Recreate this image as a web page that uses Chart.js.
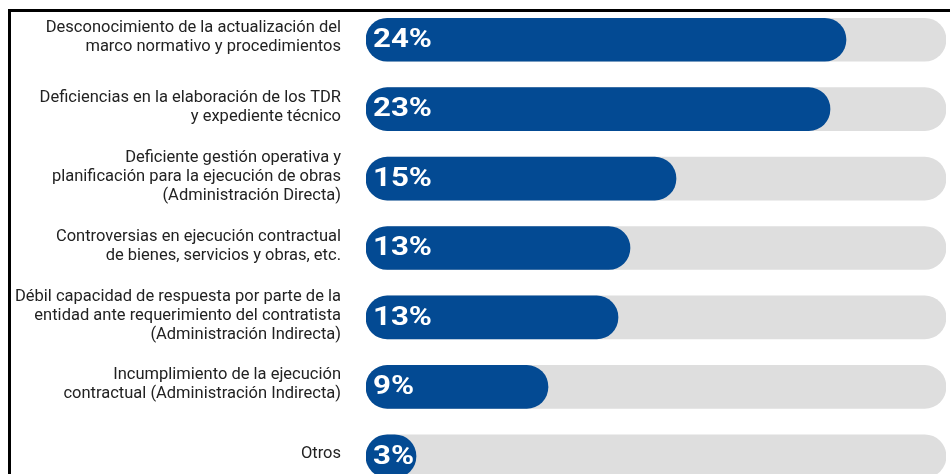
<!DOCTYPE html>
<html>
<head>
<meta charset="utf-8">
<script src="https://cdn.jsdelivr.net/npm/chart.js@4"></script>
<style>
	html, body { margin: 0; padding: 0; background: #fff; overflow: hidden; }
	.wrap { position: absolute; left: 0; top: 0; width: 950px; height: 492px; }
	.frame { position: absolute; left: 8px; top: 9px; width: 950px; height: 500px;
		border-left: 3px solid #000; border-top: 3px solid #000; pointer-events: none; }
</style>
</head>
<body>
<div class="wrap"><canvas id="chart"></canvas></div>
<div class="frame"></div>
<script>
const categories = [
	['Desconocimiento de la actualización del', 'marco normativo y procedimientos'],
	['Deficiencias en la elaboración de los TDR', 'y expediente técnico'],
	['Deficiente gestión operativa y', 'planificación para la ejecución de obras', '(Administración Directa)'],
	['Controversias en ejecución contractual', 'de bienes, servicios y obras, etc.'],
	['Débil capacidad de respuesta por parte de la', 'entidad ante requerimiento del contratista', '(Administración Indirecta)'],
	['Incumplimiento de la ejecución', 'contractual (Administración Indirecta)'],
	['Otros']
];
const shares = [24, 23.2, 15.5, 13.2, 12.6, 9.1, 2.5];
const shareLabels = ['24%', '23%', '15%', '13%', '13%', '9%', '3%'];
const trackMax = 29;

const BLUE = '#034a93';
const TRACK = '#dedede';

// white percentage text at the start of each blue bar (a bit wider, like the original)
const valueLabels = {
	id: 'valueLabels',
	afterDatasetsDraw(chart) {
		const ctx = chart.ctx;
		const meta = chart.getDatasetMeta(0);
		ctx.fillStyle = '#fff';
		ctx.font = 'bold 25px Roboto';
		ctx.textBaseline = 'middle';
		ctx.textAlign = 'left';
		meta.data.forEach((bar, i) => {
			ctx.save();
			ctx.translate(bar.base + 7, bar.y + 1);
			ctx.scale(1.25, 1);
			ctx.fillText(shareLabels[i], 0, 0);
			ctx.restore();
		});
	}
};

new Chart(document.getElementById('chart'), {
	type: 'bar',
	data: {
		labels: categories,
		datasets: [{
			data: shares,
			backgroundColor: BLUE,
			borderRadius: 22,
			borderSkipped: false,
			barThickness: 43,
			grouped: false,
			order: 0
		}, {
			data: categories.map(() => trackMax),
			backgroundColor: TRACK,
			borderRadius: 22,
			borderSkipped: false,
			barThickness: 43,
			grouped: false,
			order: 1
		}]
	},
	options: {
		indexAxis: 'y',
		responsive: true,
		maintainAspectRatio: false,
		animation: false,
		layout: { padding: { top: 5, right: 4, bottom: 1, left: 0 } },
		plugins: {
			legend: { display: false },
			tooltip: { enabled: false }
		},
		scales: {
			x: {
				display: false,
				min: 0,
				max: trackMax
			},
			y: {
				grid: { display: false },
				border: { display: false },
				afterFit: s => {
					s.width = 366;
					s.paddingTop = 0;
					s.paddingBottom = 0;
				},
				ticks: {
					color: '#222',
					padding: 17,
					labelOffset: -2,
					font: { family: 'Roboto', size: 16.5, lineHeight: '19px' }
				}
			}
		}
	},
	plugins: [valueLabels]
});
</script>
</body>
</html>
